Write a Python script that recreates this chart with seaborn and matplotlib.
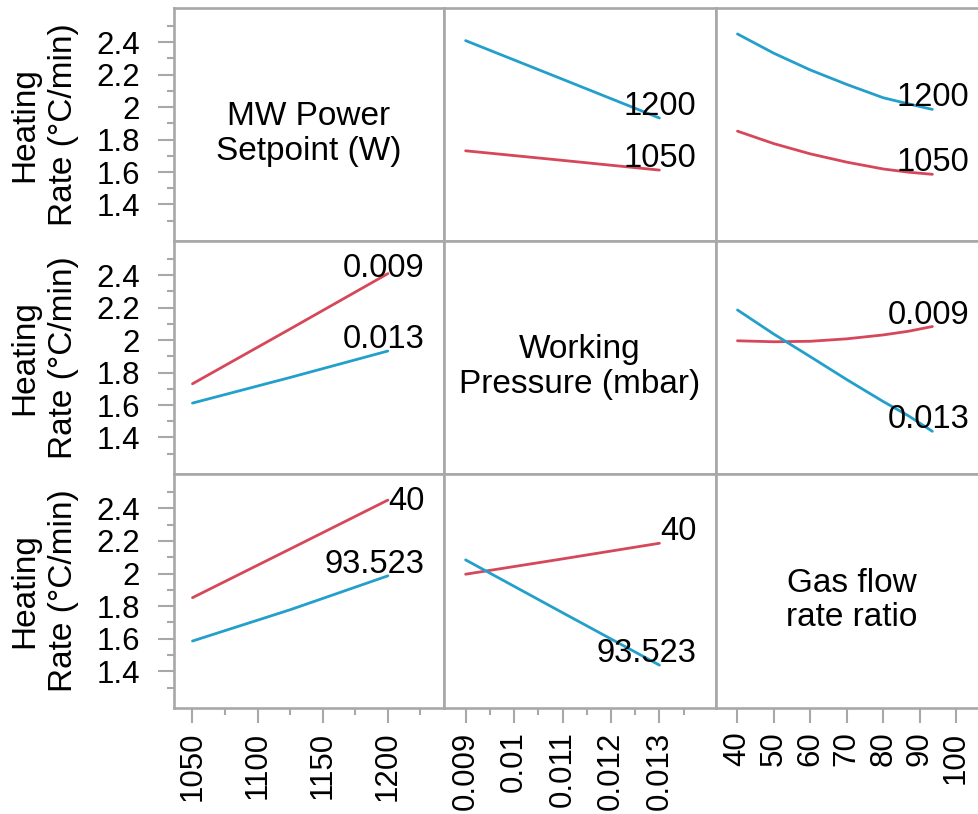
import matplotlib
matplotlib.use("Agg")
import matplotlib.pyplot as plt
import pandas as pd
import seaborn as sns
from matplotlib.ticker import FixedLocator, NullLocator

# ---- factor names and response ----
factor_names = ["MW Power\nSetpoint (W)", "Working\nPressure (mbar)", "Gas flow\nrate ratio"]
response_label = "Heating\nRate (°C/min)"

# trace levels (low, high) for each factor
power_levels = ["1050", "1200"]
pressure_levels = ["0.009", "0.013"]
gas_levels = ["40", "93.523"]

# factor settings along each x axis
power_x = [1050, 1125, 1200]
pressure_x = [0.009, 0.011, 0.013]
gas_x = [40, 50, 60, 70, 80, 87, 93.523]

# predicted heating rate, traced by MW power
rate_power1050_vs_pressure = [1.731, 1.672, 1.612]
rate_power1200_vs_pressure = [2.410, 2.172, 1.933]
rate_power1050_vs_gas = [1.852, 1.775, 1.712, 1.661, 1.619, 1.599, 1.586]
rate_power1200_vs_gas = [2.451, 2.332, 2.229, 2.140, 2.058, 2.020, 1.986]

# traced by working pressure
rate_p009_vs_power = [1.731, 2.069, 2.410]
rate_p013_vs_power = [1.612, 1.770, 1.933]
rate_p009_vs_gas = [1.996, 1.990, 1.993, 2.008, 2.032, 2.055, 2.084]
rate_p013_vs_gas = [2.186, 2.037, 1.898, 1.757, 1.622, 1.533, 1.438]

# traced by gas flow rate ratio
rate_g40_vs_power = [1.852, 2.151, 2.451]
rate_g93_vs_power = [1.586, 1.778, 1.986]
rate_g40_vs_pressure = [1.996, 2.090, 2.186]
rate_g93_vs_pressure = [2.084, 1.760, 1.438]

# axis ticks
x_major = [[1050, 1100, 1150, 1200],
           [0.009, 0.010, 0.011, 0.012, 0.013],
           [40, 50, 60, 70, 80, 90, 100]]
x_major_labels = [["1050", "1100", "1150", "1200"],
                  ["0.009", "0.01", "0.011", "0.012", "0.013"],
                  ["40", "50", "60", "70", "80", "90", "100"]]
x_minor = [[1075, 1125, 1175, 1225],
           [0.0095, 0.0105, 0.0115, 0.0125, 0.0135],
           []]
y_major = [1.4, 1.6, 1.8, 2.0, 2.2, 2.4]
y_major_labels = ["1.4", "1.6", "1.8", "2", "2.2", "2.4"]
y_minor = [1.3, 1.5, 1.7, 1.9, 2.1, 2.3, 2.5]

x_limits = [(1035.8, 1243.1), (0.008554, 0.014168), (34.1, 108.8)]
y_limits = (1.175, 2.611)

LOW_COLOR = "#D6475A"
HIGH_COLOR = "#22A0CB"
FRAME = "#A8A8A8"

# panel contents: (row, col) -> x values, list of (label, y values, colour)
panels = {
    (0, 1): (pressure_x, [(power_levels[1], rate_power1200_vs_pressure, HIGH_COLOR),
                          (power_levels[0], rate_power1050_vs_pressure, LOW_COLOR)]),
    (0, 2): (gas_x, [(power_levels[1], rate_power1200_vs_gas, HIGH_COLOR),
                     (power_levels[0], rate_power1050_vs_gas, LOW_COLOR)]),
    (1, 0): (power_x, [(pressure_levels[0], rate_p009_vs_power, LOW_COLOR),
                       (pressure_levels[1], rate_p013_vs_power, HIGH_COLOR)]),
    (1, 2): (gas_x, [(pressure_levels[0], rate_p009_vs_gas, LOW_COLOR),
                     (pressure_levels[1], rate_p013_vs_gas, HIGH_COLOR)]),
    (2, 0): (power_x, [(gas_levels[0], rate_g40_vs_power, LOW_COLOR),
                       (gas_levels[1], rate_g93_vs_power, HIGH_COLOR)]),
    (2, 1): (pressure_x, [(gas_levels[0], rate_g40_vs_pressure, LOW_COLOR),
                          (gas_levels[1], rate_g93_vs_pressure, HIGH_COLOR)]),
}

sns.set_theme(style="white")
plt.rcParams["font.family"] = ["Liberation Sans", "DejaVu Sans"]
plt.rcParams["text.color"] = "black"
plt.rcParams["xtick.color"] = "black"
plt.rcParams["ytick.color"] = "black"
FS = 22.5
FS_TEXT = 24

W, H = 979, 814
fig = plt.figure(figsize=(W / 100, H / 100), dpi=100)
col_edges = [174, 444, 716, 988]
row_edges = [8, 241, 474, 708]

for r in range(3):
    for c in range(3):
        x0, x1 = col_edges[c], col_edges[c + 1]
        y0, y1 = row_edges[r], row_edges[r + 1]
        ax = fig.add_axes([x0 / W, 1 - y1 / H, (x1 - x0) / W, (y1 - y0) / H])
        ax.set_xlim(*x_limits[c])
        ax.set_ylim(*y_limits)
        ax.set_facecolor("white")
        for s in ax.spines.values():
            s.set_visible(True)
            s.set_color(FRAME)
            s.set_linewidth(1.9)

        # ticks only along the outer left column and bottom row
        if c == 0:
            ax.yaxis.set_major_locator(FixedLocator(y_major))
            ax.set_yticklabels(y_major_labels)
            ax.yaxis.set_minor_locator(FixedLocator(y_minor))
            ax.tick_params(axis="y", which="major", left=True, direction="out",
                           length=11.5, width=1.5, color=FRAME, pad=13,
                           labelsize=FS, labelcolor="black")
            ax.tick_params(axis="y", which="minor", left=True, direction="out",
                           length=5, width=1.5, color=FRAME)
        else:
            ax.yaxis.set_major_locator(NullLocator())
            ax.yaxis.set_minor_locator(NullLocator())
        if r == 2:
            ax.xaxis.set_major_locator(FixedLocator(x_major[c]))
            ax.set_xticklabels(x_major_labels[c], rotation=90)
            ax.xaxis.set_minor_locator(FixedLocator(x_minor[c]))
            ax.tick_params(axis="x", which="major", bottom=True, direction="out",
                           length=11, width=1.5, color=FRAME, pad=6,
                           labelsize=FS, labelcolor="black")
            ax.tick_params(axis="x", which="minor", bottom=True, direction="out",
                           length=5, width=1.5, color=FRAME)
        else:
            ax.xaxis.set_major_locator(NullLocator())
            ax.xaxis.set_minor_locator(NullLocator())
        ax.set_xlabel("")
        ax.set_ylabel("")

        if r == c:
            ax.text(0.5, 0.46, factor_names[r], transform=ax.transAxes,
                    ha="center", va="center", fontsize=FS_TEXT, linespacing=1.15,
                    color="black")
            continue

        xs, traces = panels[(r, c)]
        frames = []
        for label, ys, color in traces:
            frames.append(pd.DataFrame({"x": xs, "rate": ys, "level": label}))
        df = pd.concat(frames, ignore_index=True)
        palette = {label: color for label, _, color in traces}
        sns.lineplot(data=df, x="x", y="rate", hue="level", palette=palette,
                     estimator=None, sort=True, linewidth=2.0, legend=False, ax=ax)
        for ln in ax.lines:
            ln.set_solid_joinstyle("round")
        ax.set_xlabel("")
        ax.set_ylabel("")

        # level label at the end of each trace, kept inside the panel
        top_px = ax.bbox.y1
        for label, ys, color in traces:
            px, py = ax.transData.transform((xs[-1], ys[-1]))
            base = min(py + 3, top_px - 36)
            tx, ty = ax.transAxes.inverted().transform((px + 37, base))
            ax.text(tx, ty, label, transform=ax.transAxes, ha="right",
                    va="baseline", fontsize=23.5, color="black", zorder=5)

    # response label for the row
    yc = 1 - (row_edges[r] + row_edges[r + 1]) / 2 / H
    fig.text(44 / W, yc, response_label, rotation=90, ha="center", va="center",
             fontsize=FS_TEXT, linespacing=1.3, color="black")

fig.savefig("out.png", dpi=100, facecolor="white")
